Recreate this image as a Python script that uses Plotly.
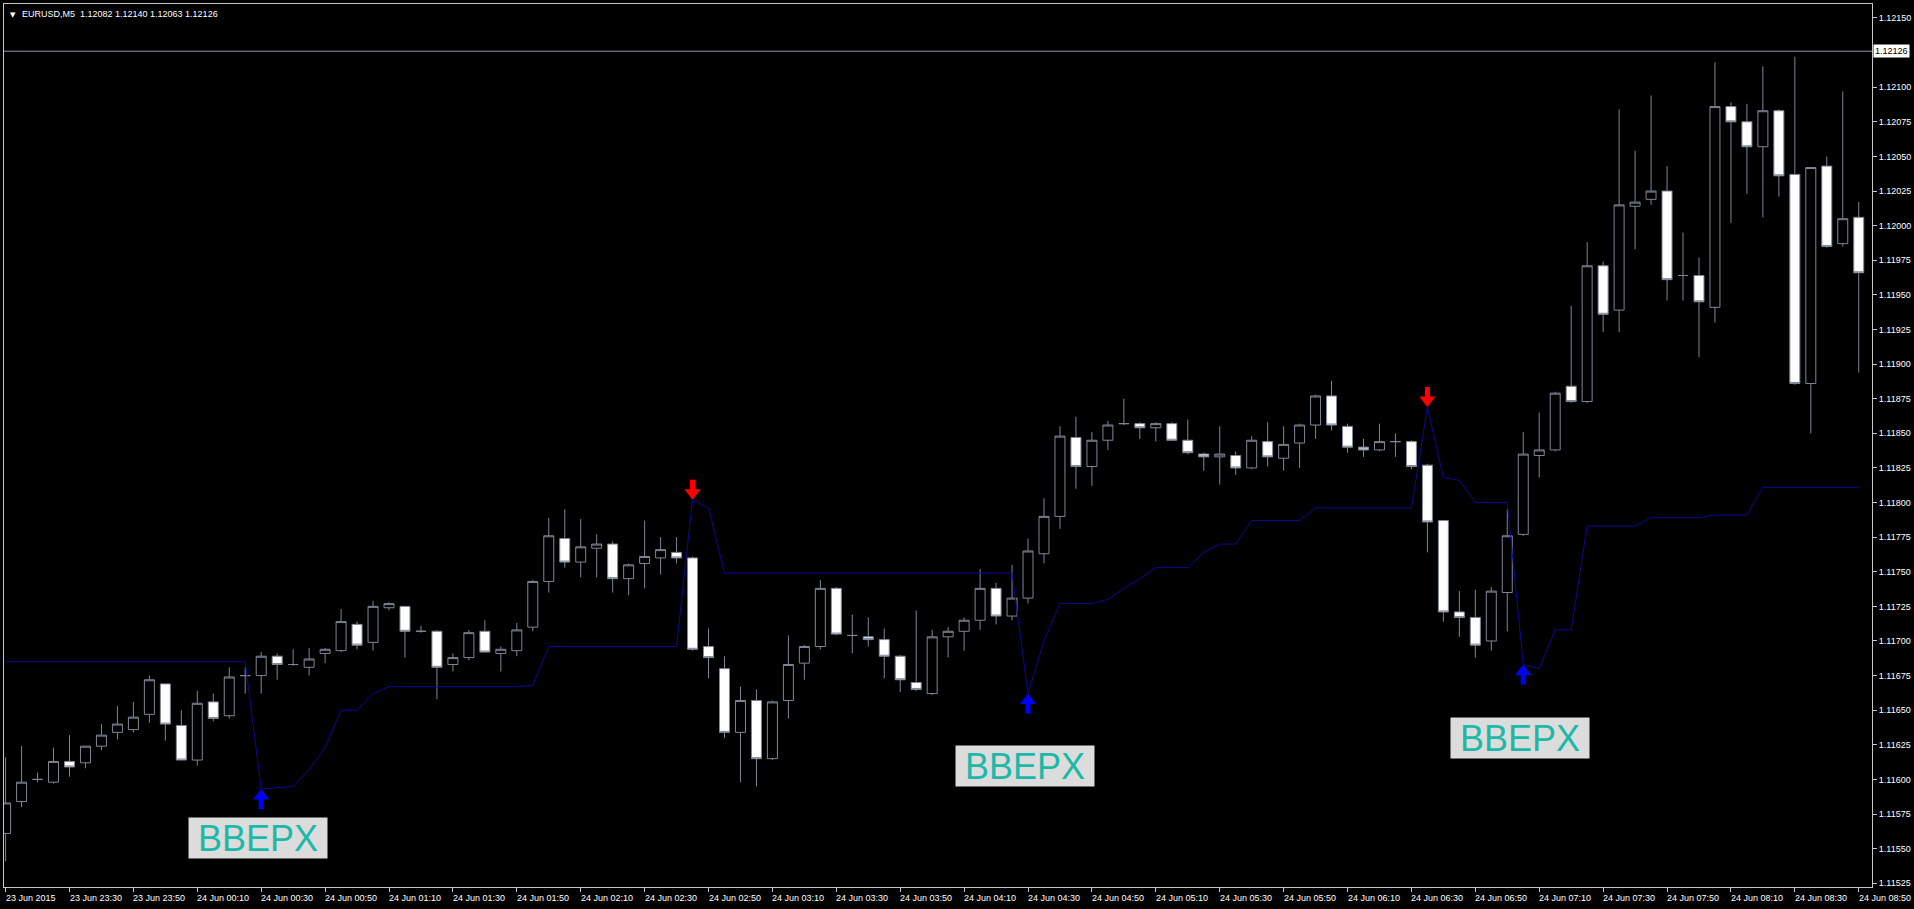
import plotly.graph_objects as go

# ---------------- data ----------------
bars = list(range(117))

opens = [1.11561, 1.11584, 1.11600, 1.11598, 1.11613, 1.11612, 1.11624, 1.11634, 1.11636, 1.11647,
         1.11669, 1.11639, 1.11614, 1.11656, 1.11646, 1.11675, 1.11675, 1.11689, 1.11683, 1.11681,
         1.11691, 1.11693, 1.11712, 1.11699, 1.11724, 1.11725, 1.11707, 1.11707, 1.11683, 1.11688,
         1.11707, 1.11691, 1.11693, 1.11710, 1.11743, 1.11774, 1.11757, 1.11767, 1.11770, 1.11745,
         1.11756, 1.11760, 1.11764, 1.11760, 1.11696, 1.11680, 1.11634, 1.11657, 1.11615, 1.11657,
         1.11684, 1.11696, 1.11738, 1.11704, 1.11703, 1.11701, 1.11689, 1.11670, 1.11662, 1.11703,
         1.11707, 1.11715, 1.11738, 1.11718, 1.11731, 1.11763, 1.11790, 1.11847, 1.11826, 1.11845,
         1.11857, 1.11857, 1.11854, 1.11857, 1.11845, 1.11835, 1.11833, 1.11834, 1.11825, 1.11844,
         1.11832, 1.11843, 1.11856, 1.11877, 1.11855, 1.11840, 1.11838, 1.11844, 1.11844, 1.11827,
         1.11787, 1.11721, 1.11717, 1.11700, 1.11735, 1.11777, 1.11834, 1.11838, 1.11884, 1.11873,
         1.11971, 1.11939, 1.12014, 1.12019, 1.12025, 1.11964, 1.11964, 1.11941, 1.12086, 1.12075,
         1.12057, 1.12083, 1.12037, 1.11886, 1.12043, 1.11987, 1.12006]

highs = [1.11616, 1.11624, 1.11605, 1.11623, 1.11632, 1.11624, 1.11640, 1.11653, 1.11656, 1.11675,
         1.11669, 1.11650, 1.11664, 1.11662, 1.11681, 1.11681, 1.11692, 1.11691, 1.11694, 1.11695,
         1.11695, 1.11723, 1.11714, 1.11729, 1.11728, 1.11725, 1.11711, 1.11708, 1.11691, 1.11708,
         1.11715, 1.11696, 1.11713, 1.11744, 1.11789, 1.11795, 1.11788, 1.11777, 1.11772, 1.11756,
         1.11787, 1.11775, 1.11775, 1.11761, 1.11709, 1.11689, 1.11667, 1.11665, 1.11657, 1.11704,
         1.11697, 1.11744, 1.11739, 1.11719, 1.11717, 1.11709, 1.11690, 1.11722, 1.11708, 1.11710,
         1.11717, 1.11752, 1.11742, 1.11755, 1.11774, 1.11803, 1.11855, 1.11862, 1.11851, 1.11859,
         1.11875, 1.11858, 1.11858, 1.11858, 1.11860, 1.11836, 1.11855, 1.11837, 1.11848, 1.11858,
         1.11855, 1.11857, 1.11878, 1.11888, 1.11857, 1.11846, 1.11857, 1.11850, 1.11845, 1.11828,
         1.11787, 1.11736, 1.11737, 1.11739, 1.11795, 1.11851, 1.11865, 1.11880, 1.11942, 1.11988,
         1.11974, 1.12084, 1.12054, 1.12094, 1.12043, 1.11995, 1.11977, 1.12118, 1.12089, 1.12088,
         1.12115, 1.12084, 1.12122, 1.12042, 1.12050, 1.12097, 1.12017]

lows = [1.11541, 1.11580, 1.11598, 1.11597, 1.11602, 1.11608, 1.11621, 1.11629, 1.11634, 1.11641,
        1.11628, 1.11614, 1.11610, 1.11642, 1.11644, 1.11662, 1.11662, 1.11672, 1.11682, 1.11675,
        1.11684, 1.11692, 1.11694, 1.11693, 1.11722, 1.11688, 1.11706, 1.11658, 1.11678, 1.11686,
        1.11692, 1.11678, 1.11689, 1.11707, 1.11735, 1.11753, 1.11746, 1.11746, 1.11735, 1.11733,
        1.11738, 1.11748, 1.11756, 1.11693, 1.11673, 1.11630, 1.11598, 1.11595, 1.11614, 1.11644,
        1.11672, 1.11694, 1.11704, 1.11691, 1.11696, 1.11673, 1.11663, 1.11664, 1.11661, 1.11688,
        1.11693, 1.11708, 1.11712, 1.11715, 1.11727, 1.11756, 1.11781, 1.11810, 1.11812, 1.11838,
        1.11856, 1.11846, 1.11844, 1.11845, 1.11835, 1.11823, 1.11813, 1.11820, 1.11824, 1.11826,
        1.11823, 1.11825, 1.11846, 1.11852, 1.11836, 1.11833, 1.11837, 1.11833, 1.11824, 1.11764,
        1.11714, 1.11703, 1.11688, 1.11693, 1.11707, 1.11776, 1.11818, 1.11837, 1.11872, 1.11872,
        1.11923, 1.11923, 1.11983, 1.12015, 1.11946, 1.11946, 1.11905, 1.11930, 1.12002, 1.12023,
        1.12006, 1.12021, 1.11885, 1.11850, 1.11984, 1.11985, 1.11894]

closes = [1.11583, 1.11598, 1.11600, 1.11613, 1.11609, 1.11624, 1.11632, 1.11640, 1.11645, 1.11672,
          1.11640, 1.11614, 1.11655, 1.11644, 1.11674, 1.11675, 1.11689, 1.11683, 1.11683, 1.11687,
          1.11694, 1.11714, 1.11697, 1.11725, 1.11727, 1.11707, 1.11707, 1.11681, 1.11688, 1.11706,
          1.11692, 1.11694, 1.11708, 1.11743, 1.11776, 1.11757, 1.11768, 1.11770, 1.11745, 1.11755,
          1.11761, 1.11766, 1.11760, 1.11694, 1.11688, 1.11634, 1.11657, 1.11615, 1.11656, 1.11683,
          1.11696, 1.11738, 1.11705, 1.11704, 1.11701, 1.11689, 1.11672, 1.11665, 1.11703, 1.11707,
          1.11715, 1.11738, 1.11718, 1.11731, 1.11765, 1.11790, 1.11848, 1.11826, 1.11845, 1.11856,
          1.11857, 1.11854, 1.11857, 1.11845, 1.11836, 1.11833, 1.11835, 1.11825, 1.11845, 1.11833,
          1.11842, 1.11856, 1.11877, 1.11856, 1.11840, 1.11838, 1.11844, 1.11844, 1.11826, 1.11786,
          1.11721, 1.11717, 1.11697, 1.11736, 1.11776, 1.11835, 1.11838, 1.11879, 1.11873, 1.11971,
          1.11936, 1.12015, 1.12017, 1.12025, 1.11961, 1.11964, 1.11945, 1.12086, 1.12075, 1.12057,
          1.12083, 1.12036, 1.11886, 1.12042, 1.11985, 1.12005, 1.11966]

line_vals = ([1.11685] * 16 +
             [1.11593, 1.11594, 1.11595, 1.11607, 1.11623, 1.11650, 1.11650, 1.11662] +
             [1.11667] * 9 + [1.11668] + [1.11696] * 9 +
             [1.11802, 1.11796] + [1.11749] * 19 +
             [1.11662, 1.11700, 1.11727, 1.11727, 1.11727, 1.11730, 1.11738, 1.11745,
              1.11753, 1.11753, 1.11753, 1.11764, 1.11770, 1.11770] +
             [1.11787] * 4 + [1.11796] * 7 +
             [1.11869, 1.11818, 1.11816, 1.11800, 1.11800, 1.11800, 1.11683, 1.11680,
              1.11708, 1.11708] +
             [1.11783] * 4 + [1.11789] * 4 + [1.11791] * 3 + [1.11811] * 7)

up_arrow_bars = [16, 64, 95]
down_arrow_bars = [43, 89]
label_bars = [16, 64, 95]
label_prices = [1.11558, 1.11610, 1.11630]
label_text = "BBEPX"

time_tick_bars = list(range(0, 117, 4))
time_labels = ["23 Jun 2015", "23 Jun 23:30", "23 Jun 23:50", "24 Jun 00:10", "24 Jun 00:30",
               "24 Jun 00:50", "24 Jun 01:10", "24 Jun 01:30", "24 Jun 01:50", "24 Jun 02:10",
               "24 Jun 02:30", "24 Jun 02:50", "24 Jun 03:10", "24 Jun 03:30", "24 Jun 03:50",
               "24 Jun 04:10", "24 Jun 04:30", "24 Jun 04:50", "24 Jun 05:10", "24 Jun 05:30",
               "24 Jun 05:50", "24 Jun 06:10", "24 Jun 06:30", "24 Jun 06:50", "24 Jun 07:10",
               "24 Jun 07:30", "24 Jun 07:50", "24 Jun 08:10", "24 Jun 08:30", "24 Jun 08:50"]

price_ticks = [1.11525, 1.11550, 1.11575, 1.11600, 1.11625, 1.11650, 1.11675, 1.11700, 1.11725,
               1.11750, 1.11775, 1.11800, 1.11825, 1.11850, 1.11875, 1.11900, 1.11925, 1.11950,
               1.11975, 1.12000, 1.12025, 1.12050, 1.12075, 1.12100, 1.12150]
bid_price = 1.12126
header = "EURUSD,M5\u00a0\u00a01.12082 1.12140 1.12063 1.12126"

# ---------------- styles / geometry ----------------
FONT = "Liberation Sans, DejaVu Sans, sans-serif"
CANDLE_LINE = "#7d8796"
W, H = 1914, 909
M_L, M_R, M_T, M_B = 4, 39, 3, 22
Y_RANGE = [1.115223, 1.121601]
X_RANGE = [-0.1, 116.83]
PLOT_H = H - M_T - M_B
u = (Y_RANGE[1] - Y_RANGE[0]) / PLOT_H   # price per pixel

fig = go.Figure()

fig.add_trace(go.Candlestick(
    x=bars, open=opens, high=highs, low=lows, close=closes,
    increasing=dict(line=dict(color=CANDLE_LINE, width=1), fillcolor="#000000"),
    decreasing=dict(line=dict(color=CANDLE_LINE, width=1), fillcolor="#ffffff"),
    whiskerwidth=0, hoverinfo="skip", showlegend=False,
))

fig.add_trace(go.Scatter(
    x=bars, y=line_vals, mode="lines",
    line=dict(color="#0a0a96", width=1), hoverinfo="skip", showlegend=False,
))

# arrows: triangle head + thick stem, tip touching the indicator line
def add_arrow(xs, direction, color):
    sign = -1 if direction == "up" else 1
    tips = [line_vals[b] for b in xs]
    fig.add_trace(go.Scatter(
        x=xs, y=[p + sign * 7 * u for p in tips], mode="markers",
        marker=dict(symbol="triangle-%s" % direction, size=14, color=color,
                    line=dict(width=0)),
        hoverinfo="skip", showlegend=False))
    fig.add_trace(go.Scatter(
        x=xs, y=[p + sign * 14.5 * u for p in tips], mode="markers",
        marker=dict(symbol="line-ns", size=8, color=color,
                    line=dict(width=5, color=color)),
        hoverinfo="skip", showlegend=False))

add_arrow(up_arrow_bars, "up", "#0000ff")
add_arrow(down_arrow_bars, "down", "#ff0000")

# bid line
fig.add_hline(y=bid_price, line=dict(color="#8c96a5", width=1))

annotations = []
for b, t in zip(time_tick_bars, time_labels):
    annotations.append(dict(x=b, y=0, xref="x", yref="paper", text=t, showarrow=False,
                            xanchor="left", yanchor="top", xshift=-2, yshift=-4,
                            font=dict(color="#ffffff", size=9, family=FONT)))
for b, p in zip(label_bars, label_prices):
    annotations.append(dict(x=b, y=p, xref="x", yref="y", text=label_text, showarrow=False,
                            xanchor="center", yanchor="middle", width=138, height=40,
                            bgcolor="#dcdcdc", borderpad=0, xshift=-3,
                            font=dict(color="#1cb8a8", size=36, family=FONT)))
annotations.append(dict(x=1, y=bid_price, xref="paper", yref="y", text="%.5f" % bid_price,
                        showarrow=False, xanchor="left", yanchor="middle", xshift=1,
                        bgcolor="#ffffff", borderpad=1,
                        font=dict(color="#000000", size=9, family=FONT)))
annotations.append(dict(x=0, y=1, xref="paper", yref="paper", text="\u25bc", showarrow=False,
                        xanchor="left", yanchor="top", xshift=4, yshift=-5,
                        font=dict(color="#ffffff", size=7, family="DejaVu Sans")))
annotations.append(dict(x=0, y=1, xref="paper", yref="paper", text=header, showarrow=False,
                        xanchor="left", yanchor="top", xshift=16, yshift=-3,
                        font=dict(color="#ffffff", size=9, family=FONT)))

fig.update_layout(
    width=W, height=H,
    paper_bgcolor="#000000", plot_bgcolor="#000000",
    margin=dict(l=M_L, r=M_R, t=M_T, b=M_B),
    boxgap=0.375, boxgroupgap=0,
    showlegend=False,
    annotations=annotations,
    xaxis=dict(range=X_RANGE, showgrid=False, zeroline=False,
               rangeslider=dict(visible=False),
               showline=True, mirror=True, linecolor="#c8c8c8", linewidth=1,
               tickmode="array", tickvals=time_tick_bars, showticklabels=False,
               ticks="outside", ticklen=4, tickcolor="#c8c8c8"),
    yaxis=dict(range=Y_RANGE, side="right", showgrid=False, zeroline=False,
               showline=True, mirror=True, linecolor="#c8c8c8", linewidth=1,
               tickmode="array", tickvals=price_ticks,
               ticktext=["%.5f" % v for v in price_ticks],
               ticks="outside", ticklen=4, tickcolor="#c8c8c8",
               tickfont=dict(color="#ffffff", size=9, family=FONT)),
)

fig.write_html("out.html",
               config={"displayModeBar": False},
               post_script="document.body.style.margin='0';document.body.style.overflow='hidden';")
